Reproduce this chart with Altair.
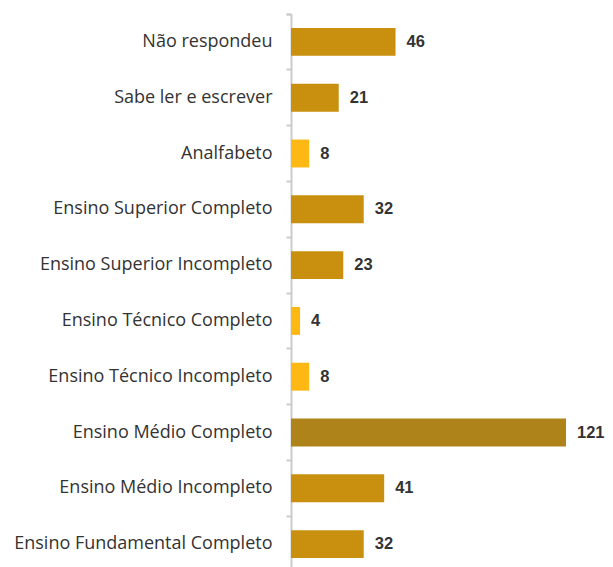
import altair as alt
import pandas as pd

categories = [
    "Não respondeu",
    "Sabe ler e escrever",
    "Analfabeto",
    "Ensino Superior Completo",
    "Ensino Superior Incompleto",
    "Ensino Técnico Completo",
    "Ensino Técnico Incompleto",
    "Ensino Médio Completo",
    "Ensino Médio Incompleto",
    "Ensino Fundamental Completo",
]
values = [46, 21, 8, 32, 23, 4, 8, 121, 41, 32]
colors = ["#C8900E", "#C8900E", "#FDB813", "#C8900E", "#C8900E",
          "#FDB813", "#FDB813", "#AE8319", "#C8900E", "#C8900E"]

df = pd.DataFrame({"cat": categories, "val": values, "col": colors})

y = alt.Y(
    "cat:N",
    sort=categories,
    title=None,
    scale=alt.Scale(paddingInner=0, paddingOuter=0),
    axis=alt.Axis(
        bandPosition=0,
        tickExtra=True,
        domainColor="#cccccc",
        domainWidth=2,
        tickColor="#cccccc",
        tickWidth=2,
        tickSize=5,
        labelPadding=14,
        labelFont="Open Sans",
        labelFontSize=18,
        labelColor="#333333",
        labelLimit=400,
    ),
)
x = alt.X("val:Q", axis=None, scale=alt.Scale(domain=[0, 121], nice=False))

bars = alt.Chart(df).mark_bar(height=alt.RelativeBandSize(0.5)).encode(
    y=y, x=x, color=alt.Color("col:N", scale=None)
)
labels = alt.Chart(df).mark_text(
    align="left", dx=11, fontWeight="bold", fontSize=16.5,
    font="Liberation Sans", color="#333333"
).encode(y=alt.Y("cat:N", sort=categories), x=x, text="val:Q")

chart = (bars + labels).properties(
    width=275, height=558,
    autosize=alt.AutoSizeParams(type="none"),
    padding={"left": 283, "top": 6, "right": 39, "bottom": 0},
).configure_view(stroke=None)

chart.save("out.html", embed_options={"renderer": "svg", "actions": False})
